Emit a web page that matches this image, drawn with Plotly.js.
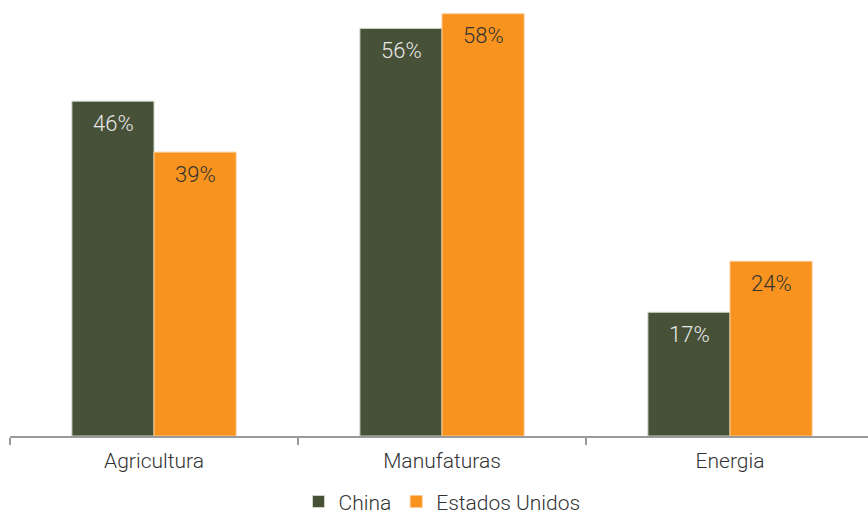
<!DOCTYPE html>
<html><head><meta charset="utf-8">
<script src="https://cdn.plot.ly/plotly-3.0.1.min.js"></script>
<style>html,body{margin:0;padding:0;background:#fff;overflow:hidden}#c{width:874px;height:515px}</style>
</head><body><div id="c"></div>
<script>
const categories = ["Agricultura", "Manufaturas", "Energia"];
const china = [46, 56, 17];
const eua = [39, 58, 24];
const seriesNames = ["China", "Estados Unidos"];

const FONT = "Roboto, 'Liberation Sans', Arial, sans-serif";
const W = 300;
const fmt = v => v + "%";

const traces = [
  {type:"bar", name:seriesNames[0], x:categories, y:china,
   marker:{color:"#465137", line:{color:"#cfd3c8", width:1}}, hoverinfo:"skip"},
  {type:"bar", name:seriesNames[1], x:categories, y:eua,
   marker:{color:"#F7931E", line:{color:"#fbc98f", width:1}}, hoverinfo:"skip"}
];

const labelAnn = (vals, shift, color) => vals.map((v, i) => ({
  x: categories[i], y: v, xref:"x", yref:"y", text: fmt(v), showarrow:false,
  xshift: shift, yshift:-22, yanchor:"middle", xanchor:"center",
  font:{family:FONT, size:22, weight:W, color:color}
}));

const layout = {
  width:874, height:515,
  margin:{l:10, r:0, t:0, b:79, autoexpand:false},
  paper_bgcolor:"#fff", plot_bgcolor:"#fff",
  font:{family:FONT, size:21, weight:W, color:"#333"},
  barmode:"group", bargap:0.43, bargroupgap:0,
  showlegend:true,
  legend:{orientation:"h", x:0.5, xanchor:"center", xref:"paper",
          y:-0.151, yref:"paper", yanchor:"middle",
          font:{family:FONT, size:21, weight:W, color:"#333"}, itemwidth:30, traceorder:"normal"},
  annotations: labelAnn(china, -41, "#e8e8e8").concat(labelAnn(eua, 41, "#333333")),
  xaxis:{showline:true, linecolor:"#9a9a9a", linewidth:2, ticks:"outside",
         tickson:"boundaries", ticklen:7, tickcolor:"#9a9a9a", tickwidth:2,
         ticklabelstandoff:5,
         tickfont:{family:FONT, size:21, weight:W, color:"#333"}, showgrid:false, zeroline:false, fixedrange:true},
  yaxis:{range:[0, 59.9], visible:false, showgrid:false, zeroline:false, fixedrange:true}
};

Plotly.newPlot("c", traces, layout, {displayModeBar:false, staticPlot:true});
</script></body></html>
